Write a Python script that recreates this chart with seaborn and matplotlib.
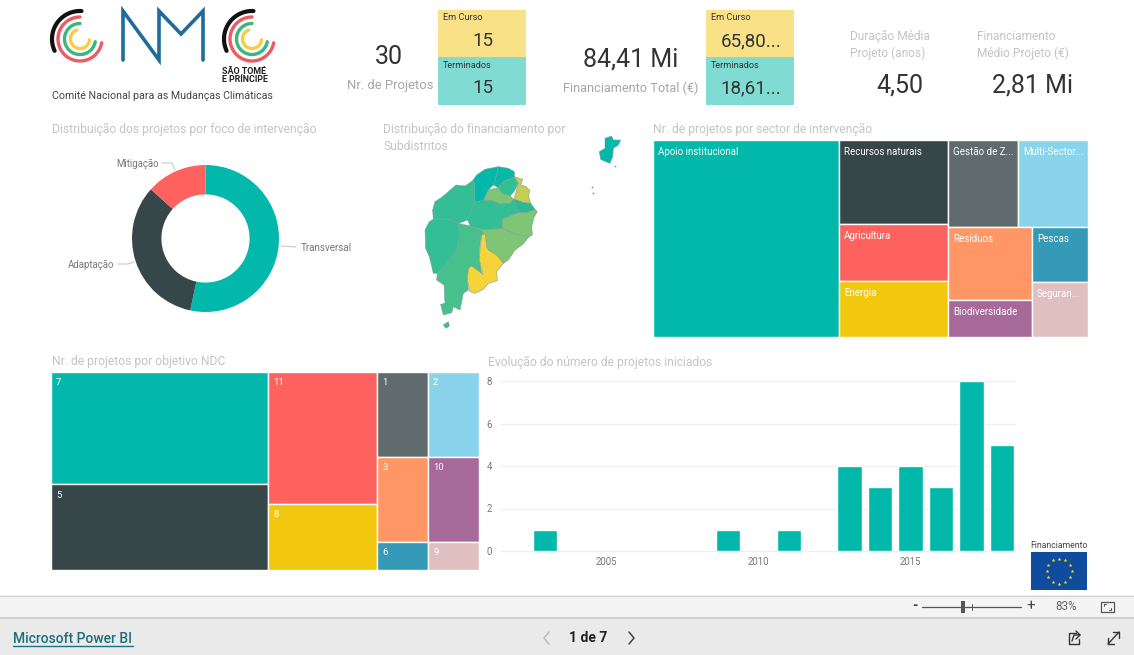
import matplotlib
matplotlib.use("Agg")
import matplotlib.pyplot as plt
from matplotlib.colors import LinearSegmentedColormap
from matplotlib.patches import Rectangle, Polygon
import numpy as np
import pandas as pd
import seaborn as sb

sb.set_theme(style="white")
plt.rcParams["font.family"] = ["Roboto", "DejaVu Sans"]

TEAL = "#01B8AA"
TITLE_GREY = "#C4C4C4"

# KPI cards
kpi_projects = "30"
kpi_projects_running = "15"
kpi_projects_done = "15"
kpi_money = "84,41 Mi"
kpi_money_running = "65,80..."
kpi_money_done = "18,61..."
kpi_duration = "4,50"
kpi_mean_money = "2,81 Mi"

# donut
focus_names = ["Transversal", "Adaptação", "Mitigação"]
focus_counts = [16, 10, 4]
focus_colors = [TEAL, "#374649", "#FD625E"]

# treemap sectors
sector_names = ["Apoio institucional", "Recursos naturais", "Agricultura", "Energia",
                "Gestão de Z...", "Multi-Sector...", "Resíduos", "Biodiversidade",
                "Pescas", "Seguran..."]
sector_counts = [24, 6, 4, 4, 4, 4, 4, 2, 2, 2]
sector_colors = [TEAL, "#374649", "#FD625E", "#F2C80F", "#5F6B6D", "#8AD4EB",
                 "#FE9666", "#A66999", "#3599B8", "#DFBFBF"]

# treemap NDC objectives
ndc_names = ["7", "5", "11", "8", "1", "2", "3", "10", "6", "9"]
ndc_counts = [17, 13, 10, 5, 3, 3, 3, 3, 1, 1]
ndc_colors = [TEAL, "#374649", "#FD625E", "#F2C80F", "#5F6B6D", "#8AD4EB",
              "#FE9666", "#A66999", "#3599B8", "#DFBFBF"]

# projects started per year
years = [2003, 2009, 2011, 2013, 2014, 2015, 2016, 2017, 2018]
started = [1, 1, 1, 4, 3, 4, 3, 8, 5]

# map outlines, funding level of each area 0..1
map_levels = [0.0, 0.03, 0.2, 0.8, 0.5, 0.2, 0.15, 0.5, 0.2, 0.2, 0.28, 0.5, 1.0, 0.0, 0.2]
map_shapes = [
    [(278, 182), (290, 165), (315, 148), (355, 140), (350, 165), (340, 195), (325, 210), (310, 242),
     (285, 245), (283, 190)],
    [(355, 140), (385, 145), (403, 155), (403, 172), (370, 185), (355, 202), (340, 195), (350, 165)],
    [(370, 185), (403, 172), (415, 190), (402, 215), (390, 228), (365, 220), (355, 202)],
    [(403, 170), (428, 178), (422, 195), (438, 200), (450, 212), (445, 225), (452, 250), (430, 248),
     (402, 238), (415, 190)],
    [(325, 210), (355, 202), (365, 220), (390, 228), (402, 238), (390, 250), (360, 252), (335, 242),
     (310, 242)],
    [(285, 245), (310, 242), (335, 242), (360, 252), (390, 250), (402, 238), (430, 248), (415, 270),
     (385, 290), (367, 298), (367, 325), (310, 330), (270, 318), (263, 300), (275, 270)],
    [(402, 238), (430, 248), (452, 250), (465, 268), (440, 278), (415, 278), (385, 290), (415, 270)],
    [(465, 268), (472, 275), (462, 292), (455, 320), (457, 345), (445, 352), (400, 340), (367, 325),
     (367, 298), (385, 290), (415, 278), (440, 278)],
    [(135, 330), (148, 305), (160, 298), (205, 298), (235, 310), (240, 345), (235, 360), (230, 390),
     (200, 430), (172, 460), (160, 460), (153, 430), (148, 410), (137, 385)],
    [(165, 245), (185, 232), (205, 215), (228, 195), (255, 198), (278, 182), (283, 190), (285, 245),
     (275, 270), (263, 300), (235, 310), (205, 298), (160, 298), (158, 270)],
    [(235, 310), (270, 318), (305, 330), (310, 340), (302, 360), (298, 390), (298, 420), (305, 460),
     (275, 438), (265, 445), (262, 480), (265, 510), (250, 520), (240, 570), (220, 560), (215, 578),
     (190, 585), (182, 553), (195, 550), (192, 495), (170, 480), (172, 460), (200, 430), (230, 390),
     (235, 360), (240, 345)],
    [(305, 330), (367, 325), (400, 340), (445, 352), (430, 372), (405, 390), (385, 420), (370, 430),
     (350, 405), (325, 390), (320, 380), (318, 360), (315, 342), (310, 340)],
    [(305, 345), (315, 342), (318, 360), (320, 380), (325, 390), (350, 405), (370, 430), (350, 455),
     (352, 482), (325, 490), (310, 508), (285, 520), (270, 515), (262, 480), (265, 445), (275, 438),
     (305, 460), (310, 465), (298, 420), (300, 390)],
    [(675, 55), (695, 48), (700, 60), (722, 60), (715, 75), (700, 85), (698, 110), (690, 130),
     (670, 122), (662, 118), (658, 95), (675, 85)],
    [(190, 615), (205, 605), (208, 618), (198, 625)],
]
map_cmap = LinearSegmentedColormap.from_list("fin", [TEAL, "#7EC675", "#F5D33B"])


def squarify(values, x0, y0, x1, y1):
    # same idea as d3 treemapSquarify, ratio is the golden one
    ratio = (1 + 5 ** 0.5) / 2
    boxes = []
    i = 0
    n = len(values)
    left = float(sum(values))
    while i < n:
        dx, dy = x1 - x0, y1 - y0
        alpha = max(dy / dx, dx / dy) / (left * ratio)
        total = hi = lo = values[i]
        beta = total * total * alpha
        best = max(hi / beta, beta / lo)
        j = i + 1
        while j < n:
            v = values[j]
            new_total = total + v
            new_hi, new_lo = max(hi, v), min(lo, v)
            beta = new_total * new_total * alpha
            new_ratio = max(new_hi / beta, beta / new_lo)
            if new_ratio > best:
                break
            total, hi, lo, best = new_total, new_hi, new_lo, new_ratio
            j += 1
        if dx < dy:
            h = dy * total / left
            x = x0
            for v in values[i:j]:
                w = dx * v / total
                boxes.append((x, y0, w, h))
                x += w
            y0 += h
        else:
            w = dx * total / left
            y = y0
            for v in values[i:j]:
                h = dy * v / total
                boxes.append((x0, y, w, h))
                y += h
            x0 += w
        left -= total
        i = j
    return boxes


fig = plt.figure(figsize=(11.34, 6.55), dpi=100, facecolor="white")
W, H = 1134, 655

# whole page axes counted in pixels, for cards, text and page furniture
page = fig.add_axes([0, 0, 1, 1])
page.set_xlim(0, W)
page.set_ylim(H, 0)
page.axis("off")


def axes_px(x0, y0, x1, y1):
    ax = fig.add_axes([x0 / W, 1 - y1 / H, (x1 - x0) / W, (y1 - y0) / H])
    ax.patch.set_alpha(0)
    return ax


def text(x, y, s, size=9, color="#333333", ha="left", **kw):
    page.text(x, y, s, fontsize=size, color=color, ha=ha, va="center", **kw)


def box(x0, y0, x1, y1, color):
    page.add_patch(Rectangle((x0, y0), x1 - x0, y1 - y0, facecolor=color, edgecolor="none"))


def arc(cx, cy, r, a0, a1, color, lw=3.0):
    t = np.radians(np.linspace(a0, a1, 80))
    page.plot(cx + r * np.cos(t), cy - r * np.sin(t), color=color, lw=lw, solid_capstyle="round")


# logos
for cx in [80, 252]:
    arc(cx, 39, 28, 87, 205, "#111111", 3.0)
    arc(cx, 39, 22, 90, 350, "#EE5A63", 2.4)
    arc(cx, 39, 15.5, 90, 350, "#3DB57F", 2.4)
    arc(cx, 39, 9.5, 110, 355, "#F7CE3E", 2.4)
page.plot([123, 123, 159, 159, 181, 203, 203], [60, 11, 60, 11, 34, 11, 60], color="#1F6B9A",
          lw=2.6, solid_joinstyle="miter", solid_capstyle="round")
text(222, 71, "SÃO TOMÉ", 6.4, "#222222", fontweight="bold")
text(222, 80, "E PRÍNCIPE", 6.4, "#222222", fontweight="bold")
text(52, 96, "Comité Nacional para as Mudanças Climáticas", 7.7, "#444444")

# KPI row
text(389, 57, kpi_projects, 18, "#333333", ha="center")
text(390, 86, "Nr. de Projetos", 9.4, "#A6A6A6", ha="center")
text(631, 60, kpi_money, 18, "#333333", ha="center")
text(630.5, 88, "Financiamento Total (€)", 9.2, "#A6A6A6", ha="center")
for x0, up, down in [(438, kpi_projects_running, kpi_projects_done), (706, kpi_money_running, kpi_money_done)]:
    box(x0, 10, x0 + 88, 57, "#F8E187")
    box(x0, 57, x0 + 88, 105, "#80DCD2")
    text(x0 + 5, 18, "Em Curso", 6.6, "#333333")
    text(x0 + 5, 65, "Terminados", 6.6, "#333333")
    text(x0 + 45, 41, up, 13.5, "#333333", ha="center")
    text(x0 + 45, 88, down, 13.5, "#333333", ha="center")
text(850, 36, "Duração Média", 8.6, "#C4C4C4")
text(850, 53, "Projeto (anos)", 8.6, "#C4C4C4")
text(900, 85, kpi_duration, 18, "#333333", ha="center")
text(977, 36, "Financiamento", 8.6, "#C4C4C4")
text(977, 53, "Médio Projeto (€)", 8.6, "#C4C4C4")
text(1032, 85, kpi_mean_money, 18, "#333333", ha="center")

# section titles
text(52, 129, "Distribuição dos projetos por foco de intervenção", 8.7, TITLE_GREY)
text(383, 129, "Distribuição do financiamento por", 8.7, TITLE_GREY)
text(383, 146, "Subdistritos", 8.7, TITLE_GREY)
text(653, 129, "Nr. de projetos por sector de intervenção", 8.7, TITLE_GREY)
text(52, 361, "Nr. de projetos por objetivo NDC", 8.7, TITLE_GREY)
text(488, 362, "Evolução do número de projetos iniciados", 8.7, TITLE_GREY)

# donut
donut = axes_px(132, 165, 279, 312)
donut.pie(focus_counts, colors=focus_colors, startangle=90, counterclock=False, radius=1,
          wedgeprops={"width": 0.4, "linewidth": 0})
donut.set_xlim(-1, 1)
donut.set_ylim(-1, 1)
text(159, 164, focus_names[2], 6.9, "#777777", ha="right")
text(114, 265, focus_names[1], 6.9, "#777777", ha="right")
text(301, 248, focus_names[0], 7.1, "#777777")
page.plot([162, 172, 175], [163, 163, 170], color="#C8C8C8", lw=0.8)
page.plot([118, 128, 134], [264, 264, 262], color="#C8C8C8", lw=0.8)
page.plot([281, 296], [246, 247], color="#C8C8C8", lw=0.8)

# map, outlines are in 3x crop units
geo = axes_px(380, 120, 640, 340)
geo.set_xlim(0, 780)
geo.set_ylim(660, 0)
geo.axis("off")
for shape, level in zip(map_shapes, map_levels):
    geo.add_patch(Polygon(shape, closed=True, facecolor=map_cmap(level), edgecolor="#7F9F94", lw=0.4))
geo.scatter([704, 636, 640], [137, 200, 218], s=1.5, color="#5E9E94", linewidths=0)

# treemaps
for names, counts, colors, frame, size, off in [
    (sector_names, sector_counts, sector_colors, (652.8, 139.8, 1087.8, 336.8), 7.0, 12),
    (ndc_names, ndc_counts, ndc_colors, (50.8, 371.8, 478.8, 569.8), 6.8, 11),
]:
    for name, color, (x, y, w, h) in zip(names, colors, squarify(counts, *frame)):
        page.add_patch(Rectangle((x, y), w, h, facecolor=color, edgecolor="white", lw=1.0))
        text(x + 5, y + off, name, size, "white")

# yearly bars
bars = axes_px(501, 381, 1015, 551)
df = pd.DataFrame({"ano": years, "projetos": started})
sb.barplot(data=df, x="ano", y="projetos", native_scale=True, color=TEAL, saturation=1,
           width=0.8, ax=bars)
bars.set_xlim(2001.55, 2018.43)
bars.set_ylim(0, 8)
bars.set_yticks([0, 2, 4, 6, 8])
bars.set_xticks([2005, 2010, 2015])
bars.set_xlabel("")
bars.set_ylabel("")
bars.grid(axis="y", color="#F0F0F0", lw=1)
bars.set_axisbelow(True)
for line in bars.get_ygridlines():
    line.set_clip_on(False)
bars.tick_params(axis="x", labelsize=6.9, labelcolor="#777777", length=0, pad=4)
bars.tick_params(axis="y", labelsize=6.9, labelcolor="#777777", length=0, pad=6.5)
sb.despine(ax=bars, left=True, bottom=True, top=True, right=True)

# EU flag
box(1031, 552, 1087, 590, "#0F4C9E")
text(1059, 546, "Financiamento", 6.2, "#444444", ha="center")
star_t = np.radians(np.arange(0, 360, 30))
page.scatter(1059 + 12.5 * np.cos(star_t), 571 - 12.5 * np.sin(star_t), s=8, marker="*",
             color="#FFE600", linewidths=0, zorder=3)

# status bar and footer
box(0, 595, W, 618, "#F4F4F4")
box(0, 618, W, H, "#EAEAEA")
page.plot([0, W], [595.5, 595.5], color="#D6D6D6", lw=1)
page.plot([0, W], [618, 618], color="#C8C8C8", lw=1.2)
page.plot([922, 1021], [607, 607], color="#555555", lw=0.9)
page.plot([972, 972], [604, 610], color="#555555", lw=0.7)
box(960.5, 601, 964.5, 613, "#555555")
text(915, 606, "-", 10, "#444444", ha="center", fontweight="bold")
text(1031, 606, "+", 11, "#444444", ha="center")
text(1066, 607, "83%", 8.4, "#666666", ha="center")
page.add_patch(Rectangle((1101, 602), 13, 10, facecolor="none", edgecolor="#555555", lw=0.9))
page.plot([1104, 1104, 1106], [606, 604, 604], color="#555555", lw=0.7)
page.plot([1111, 1111, 1109], [608, 610, 610], color="#555555", lw=0.7)

text(13, 639, "Microsoft Power BI", 10, "#1F6F7A", fontweight="medium")
page.plot([13, 133], [646, 646], color="#1F6F7A", lw=1)
text(588, 638, "1 de 7", 10, "#222222", ha="center", fontweight="bold")
page.plot([549, 544, 549], [632, 638, 644], color="#BDBDBD", lw=1.1)
page.plot([629, 634, 629], [632, 638, 644], color="#444444", lw=1.1)
# share icon
page.plot([1076, 1069, 1069, 1079, 1079], [633, 633, 644, 644, 639], color="#333333", lw=1)
page.plot([1072, 1074, 1080, 1076], [641, 635, 635, 631], color="#333333", lw=1)
page.plot([1080, 1076], [635, 639], color="#333333", lw=1)
# full screen icon
page.plot([1108, 1119], [644, 632], color="#333333", lw=1)
page.plot([1113, 1119, 1119], [632, 632, 638], color="#333333", lw=1)
page.plot([1108, 1108, 1114], [638, 644, 644], color="#333333", lw=1)

fig.savefig("out.png", dpi=100, facecolor="white")
